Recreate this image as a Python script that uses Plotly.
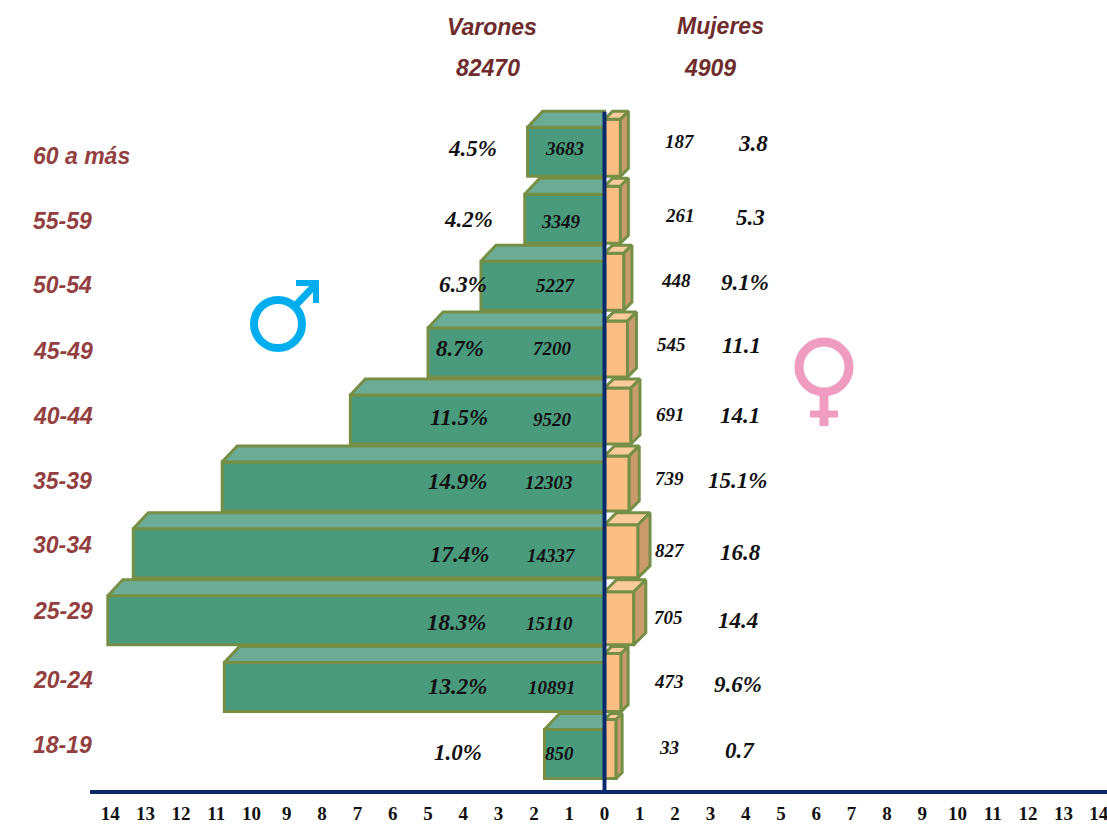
import plotly.graph_objects as go

# ---------- data (top row first) ----------
ages = ["60 a más", "55-59", "50-54", "45-49", "40-44", "35-39", "30-34", "25-29", "20-24", "18-19"]
male_axis = [2.18, 2.26, 3.5, 5.0, 7.2, 10.83, 13.35, 14.07, 10.77, 1.7]
female_axis = [0.45, 0.45, 0.55, 0.65, 0.75, 0.7, 0.95, 0.83, 0.47, 0.33]
male_counts = ["3683", "3349", "5227", "7200", "9520", "12303", "14337", "15110", "10891", "850"]
female_counts = ["187", "261", "448", "545", "691", "739", "827", "705", "473", "33"]
male_pct = ["4.5%", "4.2%", "6.3%", "8.7%", "11.5%", "14.9%", "17.4%", "18.3%", "13.2%", "1.0%"]
female_pct = ["3.8", "5.3", "9.1%", "11.1", "14.1", "15.1%", "16.8", "14.4", "9.6%", "0.7"]
headers = ["Varones", "Mujeres", "82470", "4909"]
tick_vals = list(range(-14, 15))
tick_text = [str(abs(v)) for v in tick_vals]

# ---------- layout constants ----------
W, H = 1107, 825
EXTRA = 40  # figure runs past the window so the last tick label is not dropped
L, B = 90, 35
PX_X = 35.3
X_ZERO = 604.5
X_RANGE = [(L - X_ZERO) / PX_X, (W + EXTRA - X_ZERO) / PX_X]
Y_RANGE = [-0.538, 11.27]
PX_Y = (H - B) / (Y_RANGE[1] - Y_RANGE[0])
BAR_H = 49 / PX_Y
M_DX, M_DY = 15 / PX_X, 16 / PX_Y
F_DEPTH_PX = [8, 8, 8, 9, 9, 10, 12, 12, 7, 6]

GREEN, GREEN_TOP = "#4A9A7E", "#6CAB95"
PEACH, PEACH_TOP, PEACH_SIDE = "#FBBF85", "#FBCB9B", "#C99B6D"
EDGE = "#768F46"
NAVY = "#0B2A6B"
HEAD = "#6E2C2C"
AGE = "#943F3F"
INK = "#111111"
EDGE_W = 3

n = len(ages)
rows = [n - 1 - i for i in range(n)]  # numeric row position per category


def px_x(p):
    return (p - L) / (W + EXTRA - L)


def px_y(p):
    return (H - B - p) / (H - B)


def poly(xs, ys, fill):
    return go.Scatter(x=xs, y=ys, mode="lines", fill="toself", fillcolor=fill,
                      line=dict(color=EDGE, width=EDGE_W), hoverinfo="skip", showlegend=False)


fig = go.Figure()

# male front faces
fig.add_trace(go.Bar(y=rows, x=[-v for v in male_axis], width=BAR_H, orientation="h",
                     marker=dict(color=GREEN, line=dict(color=EDGE, width=EDGE_W)),
                     hoverinfo="skip", showlegend=False))
# female front faces: taller when the box is shallower, same floor as the male box
f_h = [BAR_H + (16 - d) / PX_Y for d in F_DEPTH_PX]
f_y = [r - BAR_H / 2 + h / 2 for r, h in zip(rows, f_h)]
fig.add_trace(go.Bar(y=f_y, x=female_axis, width=f_h, orientation="h",
                     marker=dict(color=PEACH, line=dict(color=EDGE, width=EDGE_W)),
                     hoverinfo="skip", showlegend=False))

# male top faces
for r, v in zip(rows, male_axis):
    top = r + BAR_H / 2
    fig.add_trace(poly([-v, -v + M_DX, 0, 0, -v], [top, top + M_DY, top + M_DY, top, top], GREEN_TOP))

# female top and side faces
for y0, h, v, d in zip(f_y, f_h, female_axis, F_DEPTH_PX):
    top, bot = y0 + h / 2, y0 - h / 2
    dx, dy = d / PX_X, d / PX_Y
    fig.add_trace(poly([0, dx, v + dx, v, 0], [top, top + dy, top + dy, top, top], PEACH_TOP))
    fig.add_trace(poly([v, v + dx, v + dx, v, v], [top, top + dy, bot + dy, bot, top], PEACH_SIDE))

# ---------- text ----------
annotations = []


def note(px, py, text, size, color, family, anchor="center"):
    annotations.append(dict(x=px_x(px), y=px_y(py), xref="paper", yref="paper", text=text,
                            showarrow=False, xanchor=anchor, yanchor="middle",
                            font=dict(size=size, color=color, family=family)))


SANS = "Liberation Sans"
SERIF = "Liberation Serif"
for (px, py), t in zip([(492, 27), (720, 26), (488, 68), (710, 68)], headers):
    note(px, py, f"<b><i>{t}</i></b>", 23, HEAD, SANS)

age_py = [156, 221, 285, 351, 416, 481, 545, 611, 680, 745]
for py, t in zip(age_py, ages):
    note(31, py, f"<b><i>{t}</i></b>", 23, AGE, SANS, "left")

mp_pos = [(472, 148), (468, 219), (463, 284), (460, 348), (459, 418), (457, 482), (459, 554), (456, 622), (457, 686), (458, 752)]
mc_pos = [(564, 148), (561, 221), (556, 285), (552, 348), (552, 420), (549, 483), (551, 555), (549, 623), (552, 687), (559, 753)]
fc_pos = [(680, 142), (680, 215), (676, 280), (671, 344), (670, 414), (669, 478), (670, 550), (668, 617), (669, 681), (669, 747)]
fp_pos = [(753, 144), (750, 217), (745, 282), (741, 345), (740, 416), (737, 480), (740, 552), (738, 620), (738, 684), (740, 750)]
for pos, labels, size in [(mp_pos, male_pct, 23), (mc_pos, male_counts, 19),
                          (fc_pos, female_counts, 19), (fp_pos, female_pct, 23)]:
    for (px, py), t in zip(pos, labels):
        note(px, py, f"<b><i>{t}</i></b>", size, INK, SERIF)

# ---------- decorative shapes ----------
CYAN, PINK = "#00AEEF", "#F09CC0"


def circle(cx, cy, r, color, lw):
    return dict(type="circle", xref="paper", yref="paper", x0=px_x(cx - r), x1=px_x(cx + r),
                y0=px_y(cy + r), y1=px_y(cy - r), line=dict(color=color, width=lw),
                fillcolor="rgba(0,0,0,0)", layer="above")


def seg(x0, y0, x1, y1, color, lw):
    return dict(type="line", xref="paper", yref="paper", x0=px_x(x0), x1=px_x(x1),
                y0=px_y(y0), y1=px_y(y1), line=dict(color=color, width=lw), layer="above")


shapes = [
    dict(type="line", xref="x", yref="y", x0=0, x1=0, y0=Y_RANGE[0], y1=9.6,
         line=dict(color=NAVY, width=4), layer="above"),
    circle(278, 324, 24, CYAN, 8),
    seg(295, 306, 316, 284, CYAN, 7),
    seg(296, 283, 319, 283, CYAN, 6),
    seg(316, 281, 316, 303, CYAN, 6),
    circle(824, 367, 25, PINK, 9),
    seg(824, 396, 824, 426, PINK, 9),
    seg(810, 414, 838, 414, PINK, 7),
]

fig.update_layout(
    width=W + EXTRA, height=H, margin=dict(l=L, r=0, t=0, b=B, pad=0),
    paper_bgcolor="white", plot_bgcolor="white",
    barmode="overlay", showlegend=False,
    xaxis=dict(range=X_RANGE, tickmode="array", tickvals=tick_vals, ticktext=tick_text,
               showgrid=False, zeroline=False, showline=True, linecolor=NAVY, linewidth=4,
               ticks="outside", ticklen=3, tickcolor="rgba(0,0,0,0)", automargin=False,
               tickfont=dict(family=SERIF, size=19, color=INK, weight="bold"), tickangle=0,
               fixedrange=True),
    yaxis=dict(range=Y_RANGE, visible=False, fixedrange=True, automargin=False),
    annotations=annotations, shapes=shapes,
)

fig.write_html("out.html", config={"displayModeBar": False},
               post_script="document.documentElement.style.overflow='hidden';document.body.style.margin='0';document.body.style.overflow='hidden';")
